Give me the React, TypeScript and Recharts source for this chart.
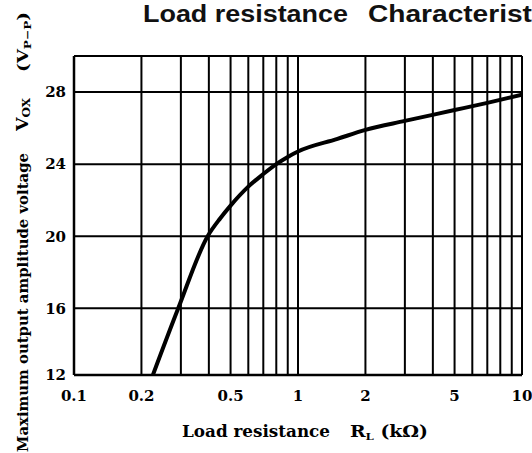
/**
 * Load resistance characteristic (Vox vs RL)
 */
import { LineChart, Line, XAxis, YAxis, CartesianGrid } from "recharts";

// load resistance RL (kOhm)
const RL = [0.225, 0.292, 0.395, 0.45, 0.5, 0.6, 0.7, 0.8, 0.9, 1, 1.5, 2, 3, 5, 7, 10];
// max output amplitude voltage Vox (Vp-p)
const VOX = [12.3, 16, 20, 21.0, 21.7, 22.75, 23.45, 24.0, 24.4, 24.7, 25.4, 25.9, 26.4, 27.0, 27.4, 27.85];

const X_TICKS = [0.1, 0.2, 0.3, 0.4, 0.5, 0.6, 0.7, 0.8, 0.9, 1, 2, 3, 4, 5, 6, 7, 8, 9, 10];
const X_LABELS = [0.1, 0.2, 0.5, 1, 2, 5, 10];
const Y_TICKS = [12.3, 16, 20, 24, 28, 30];

const data = RL.map((r, i) => ({ r, v: VOX[i] }));

const serif = "'DejaVu Serif', serif";
const tickStyle = { fontSize: 15, fontWeight: 700, fill: "#000", fontFamily: serif };

export default function App() {
  return (
    <div style={{ position: "absolute", left: 0, top: 0, width: 532, height: 453, background: "#fff", overflow: "hidden" }}>
      <LineChart width={532} height={453} data={data} margin={{ top: 56, right: 10, bottom: 48, left: 44 }}>
        <CartesianGrid stroke="#000" strokeWidth={2} />
        <XAxis dataKey="r" type="number" scale="log" domain={[0.1, 10]} allowDataOverflow
          ticks={X_TICKS} interval={0} height={30} tickSize={0} tickMargin={15}
          axisLine={{ stroke: "#000", strokeWidth: 2.5 }} tickLine={false} tick={tickStyle}
          tickFormatter={(v: number) => (X_LABELS.includes(v) ? String(v) : "")} />
        <YAxis type="number" domain={[12.3, 30]} allowDataOverflow ticks={Y_TICKS} interval={0}
          width={30} tickSize={0} tickMargin={8}
          axisLine={{ stroke: "#000", strokeWidth: 2.5 }} tickLine={false} tick={tickStyle}
          tickFormatter={(v: number) => (v === 30 ? "" : String(Math.round(v)))} />
        <Line type="monotone" dataKey="v" stroke="#000" strokeWidth={4} dot={false} isAnimationActive={false} />

        {/* title, cut at the right edge as in the scan */}
        <text x={143} y={22} fontFamily="'Liberation Sans', Arial, sans-serif" fontWeight={700} fontSize={23}
          textLength={205} lengthAdjust="spacingAndGlyphs" fill="#111">Load resistance</text>
        <text x={368} y={22} fontFamily="'Liberation Sans', Arial, sans-serif" fontWeight={700} fontSize={23}
          textLength={203} lengthAdjust="spacingAndGlyphs" fill="#111">Characteristics</text>

        {/* x axis title */}
        <text x={182} y={437} fontFamily={serif} fontWeight={700} fontSize={16}
          textLength={148} lengthAdjust="spacingAndGlyphs" fill="#000">Load resistance</text>
        <text x={350} y={437} fontFamily={serif} fontWeight={700} fontSize={16}
          textLength={78} lengthAdjust="spacingAndGlyphs" fill="#000">
          R<tspan fontSize={10} dy={3}>L</tspan><tspan dy={-3}> (kΩ)</tspan>
        </text>

        {/* y axis title */}
        <text x={28} y={452} transform="rotate(-90 28 452)" fontFamily={serif} fontWeight={700} fontSize={15}
          textLength={299} lengthAdjust="spacingAndGlyphs" fill="#000">Maximum output amplitude voltage</text>
        <text x={28} y={131} transform="rotate(-90 28 131)" fontFamily={serif} fontWeight={700} fontSize={16}
          textLength={33} lengthAdjust="spacingAndGlyphs" fill="#000">
          V<tspan fontSize={11} dy={2}>OX</tspan>
        </text>
        <text x={28} y={72} transform="rotate(-90 28 72)" fontFamily={serif} fontWeight={700} fontSize={15}
          textLength={60} lengthAdjust="spacingAndGlyphs" fill="#000">
          (V<tspan fontSize={10} dy={3}>P−P</tspan><tspan dy={-3}>)</tspan>
        </text>
      </LineChart>
    </div>
  );
}
